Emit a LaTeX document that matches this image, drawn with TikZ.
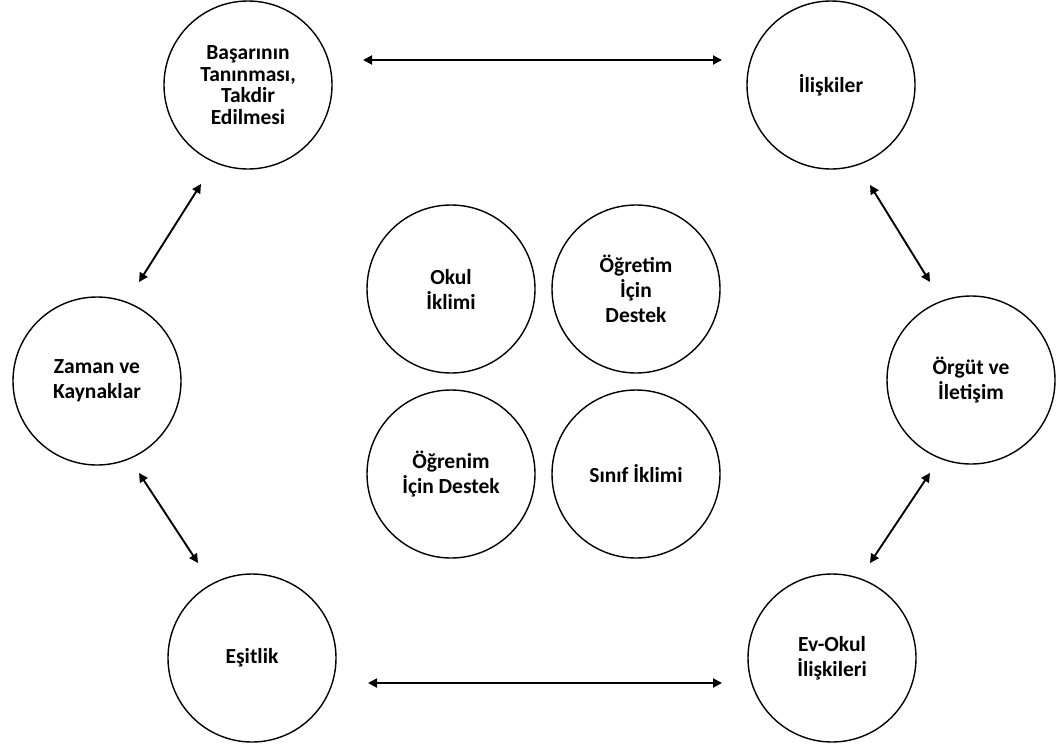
\documentclass[tikz,border=0pt]{standalone}
\usepackage{fontspec}
\setmainfont{Carlito}
\usetikzlibrary{arrows.meta,calc}

\tikzset{
  theme/.style={circle, draw, line width=1.4pt, minimum size=168pt, inner sep=0pt,
    align=center, font=\bfseries\fontsize{21.5}{25}\selectfont},
  tight/.style={font=\bfseries\fontsize{21.5}{21.5}\selectfont},
  biarrow/.style={line width=1.9pt, {Triangle[length=9pt,width=9pt]}-{Triangle[length=9pt,width=9pt]}}
}

\begin{document}
\begin{tikzpicture}[x=1pt,y=-1pt]
\useasboundingbox (0,0) rectangle (1056,744);
\fill[white] (0,0) rectangle (1056,744);

% ring of six themes
\node[theme, tight] (bas) at (248,85)  {Başarının\\Tanınması,\\Takdir\\Edilmesi};
\node[theme] (ilis)   at (831,85)  {İlişkiler};
\node[theme] (zaman)  at (97,381)  {Zaman ve\\Kaynaklar};
\node[theme] (orgut)  at (971,380) {Örgüt ve\\İletişim};
\node[theme] (esit)   at (252,658) {Eşitlik};
\node[theme] (evokul) at (832,658) {Ev-Okul\\İlişkileri};

% central group of four
\node[theme] (okul)    at (451,289) {Okul\\İklimi};
\node[theme] (ogretim) at (636,289) {Öğretim\\İçin\\Destek};
\node[theme] (ogrenim) at (451,474) {Öğrenim\\İçin Destek};
\node[theme] (sinif)   at (636,474) {Sınıf İklimi};

% two-way links around the ring
\draw[biarrow] ($(bas)+(115,-25)$)   -- ($(ilis)+(-109,-25)$);
\draw[biarrow] ($(bas)+(-47,99)$)    -- ($(zaman)+(42,-99)$);
\draw[biarrow] ($(ilis)+(39,100)$)   -- ($(orgut)+(-41,-98)$);
\draw[biarrow] ($(orgut)+(-41,93)$)  -- ($(evokul)+(38,-95)$);
\draw[biarrow] ($(zaman)+(42,92)$)   -- ($(esit)+(-54,-95)$);
\draw[biarrow] ($(esit)+(116,25)$)   -- ($(evokul)+(-110,25)$);
\end{tikzpicture}
\end{document}
